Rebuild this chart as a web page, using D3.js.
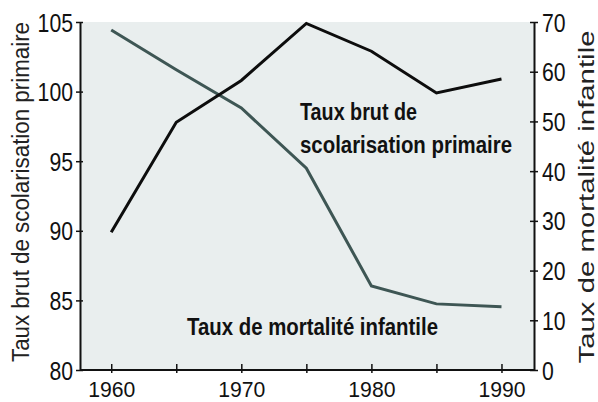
<!DOCTYPE html>
<html>
<head>
<meta charset="utf-8">
<script src="https://cdn.jsdelivr.net/npm/d3@7"></script>
<style>
  body { margin: 0; background: #fff; }
  svg { display: block; font-family: "Liberation Sans", Arial, sans-serif; }
</style>
</head>
<body>
<script>
const years = [1960, 1965, 1970, 1975, 1980, 1985, 1990];
const enrolment = [89.9, 97.8, 100.8, 104.9, 102.9, 99.9, 100.9];
const mortality = [68.4, 60.4, 52.7, 40.6, 16.9, 13.3, 12.7];
const leftTicks = [80, 85, 90, 95, 100, 105];
const rightTicks = [0, 10, 20, 30, 40, 50, 60, 70];
const xTicks = [1960, 1965, 1970, 1975, 1980, 1985, 1990];

const w = 598, h = 402;
const plotL = 80, plotR = 534, plotT = 22, plotB = 370;

const svg = d3.select("body").append("svg").attr("width", w).attr("height", h);

const x = d3.scaleLinear().domain([1957.6, 1992.5]).range([plotL, plotR]);
const yL = d3.scaleLinear().domain([80, 105]).range([plotB, plotT]);
const yR = d3.scaleLinear().domain([0, 70]).range([plotB, plotT]);

svg.append("rect")
  .attr("x", plotL).attr("y", plotT)
  .attr("width", plotR - plotL).attr("height", plotB - plotT)
  .attr("fill", "#e9eeee");

// lines
const lineL = d3.line().x((d, i) => x(years[i])).y(d => yL(d));
const lineR = d3.line().x((d, i) => x(years[i])).y(d => yR(d));

svg.append("path").datum(mortality)
  .attr("d", lineR).attr("fill", "none")
  .attr("stroke", "#3e5654").attr("stroke-width", 3);

svg.append("path").datum(enrolment)
  .attr("d", lineL).attr("fill", "none")
  .attr("stroke", "#0d0d0d").attr("stroke-width", 3);

// axes - condensed look via textLength
const digitW = 11.8;
function styleAxis(g, size) {
  g.select(".domain").attr("stroke", "#111").attr("stroke-width", 2);
  g.selectAll(".tick line").attr("stroke", "#111").attr("stroke-width", 1.5);
  g.selectAll(".tick text").attr("fill", "#111")
    .style("font-size", size + "px")
    .style("font-family", "'Liberation Sans', Arial, sans-serif")
    .filter(function () { return this.textContent.length > 0; })
    .attr("textLength", function () { return this.textContent.length * digitW; })
    .attr("lengthAdjust", "spacingAndGlyphs");
}

const gL = svg.append("g").attr("transform", `translate(${plotL},0)`)
  .call(d3.axisLeft(yL).tickValues(leftTicks).tickSize(4).tickSizeOuter(0).tickPadding(3));
styleAxis(gL, 25);
gL.selectAll(".tick line").attr("x2", 3).attr("x1", -4);
gL.selectAll(".tick text").attr("dy", "0.36em");

const gR = svg.append("g").attr("transform", `translate(${plotR},0)`)
  .call(d3.axisRight(yR).tickValues(rightTicks).tickSize(4).tickSizeOuter(0).tickPadding(4));
styleAxis(gR, 25);
gR.selectAll(".tick line").attr("x1", -4).attr("x2", 4);
gR.selectAll(".tick text").attr("dy", "0.36em");

const gX = svg.append("g").attr("transform", `translate(0,${plotB})`)
  .call(d3.axisBottom(x).tickValues(xTicks).tickSize(4).tickSizeOuter(0).tickPadding(7)
    .tickFormat(d => d % 10 === 0 ? d : ""));
styleAxis(gX, 22);
gX.selectAll(".tick line").attr("y1", -6).attr("y2", 3);
gX.select(".domain").attr("d", `M${plotL},0H${plotR}`);

// axis titles
svg.append("text")
  .attr("transform", `translate(29,192) rotate(-90)`)
  .attr("text-anchor", "middle")
  .attr("font-size", 23).attr("fill", "#222")
  .attr("textLength", 340).attr("lengthAdjust", "spacingAndGlyphs")
  .text("Taux brut de scolarisation primaire");

svg.append("text")
  .attr("transform", `translate(594,197) rotate(-90)`)
  .attr("text-anchor", "middle")
  .attr("font-size", 22).attr("fill", "#222")
  .attr("textLength", 333).attr("lengthAdjust", "spacingAndGlyphs")
  .text("Taux de mortalité infantile");

// annotations
const ann = svg.append("g").attr("font-weight", "bold").attr("font-size", 23).attr("fill", "#111");
ann.append("text").attr("x", 300).attr("y", 120)
  .attr("textLength", 117).attr("lengthAdjust", "spacingAndGlyphs").text("Taux brut de");
ann.append("text").attr("x", 300).attr("y", 153)
  .attr("textLength", 212).attr("lengthAdjust", "spacingAndGlyphs").text("scolarisation primaire");
ann.append("text").attr("x", 187).attr("y", 335)
  .attr("textLength", 251).attr("lengthAdjust", "spacingAndGlyphs").text("Taux de mortalité infantile");
</script>
</body>
</html>
